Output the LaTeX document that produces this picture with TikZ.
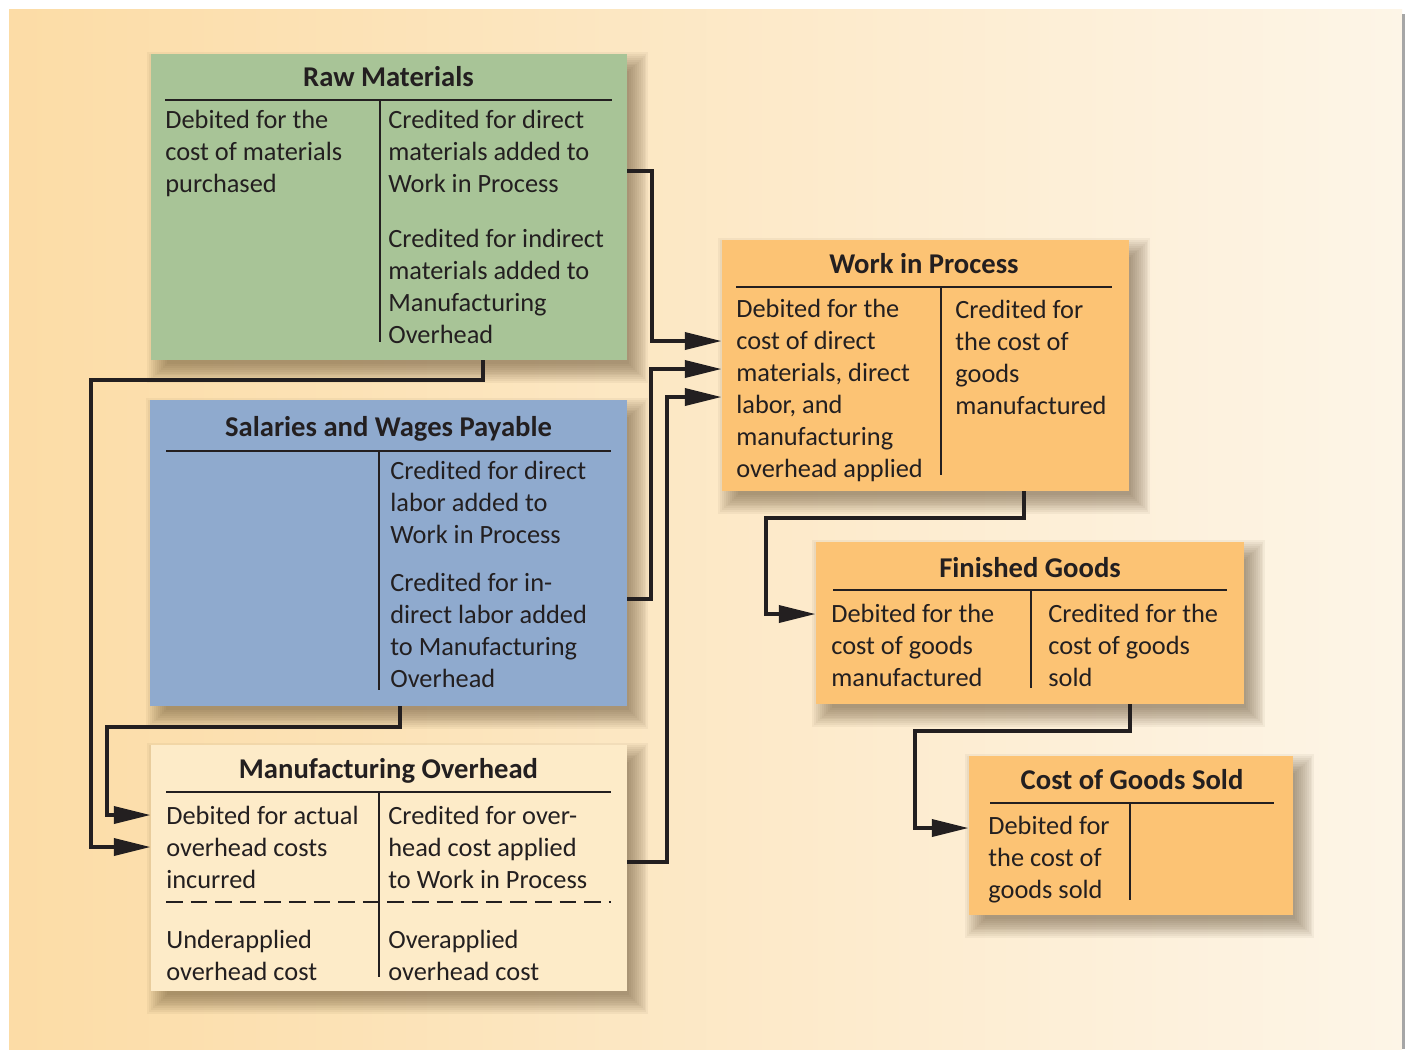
\documentclass[tikz,border=0pt]{standalone}
\usepackage{fontspec}
\setmainfont{Carlito}
\usetikzlibrary{arrows.meta}
\definecolor{ink}{HTML}{231F20}
\definecolor{rmgreen}{HTML}{A8C497}
\definecolor{swpblue}{HTML}{8FAACE}
\definecolor{mocream}{HTML}{FDEBC8}
\definecolor{acorange}{HTML}{FCC374}
\definecolor{bgleft}{HTML}{FCDCA6}
\definecolor{bgright}{HTML}{FDF5E7}
\definecolor{shadowbrown}{HTML}{4A3418}
\pgfdeclarelayer{back}
\pgfdeclarelayer{shade}
\pgfsetlayers{back,shade,main}
% soft shadow under an account box
\newcommand\accountshadow[1]{%
  \foreach \g in {0,...,10}
    \fill[shadowbrown, opacity=0.05]
      ([shift={(9pt-1.1*\g pt,-2pt-1.1*\g pt)}]#1.south west) rectangle
      ([shift={(1pt+1.1*\g pt,-10pt+1.1*\g pt)}]#1.north east);%
}

\begin{document}
\begin{tikzpicture}[x=0.02cm, y=-0.02cm,
  account/.style={inner sep=0},
  title/.style={anchor=base, inner sep=0, text=ink, font=\bfseries\fontsize{16.3}{18}\selectfont},
  entry/.style={anchor=base west, align=left, inner sep=0, text=ink,
    font=\fontsize{15}{18.14}\selectfont},
  tline/.style={line width=1.6pt, ink},
  flow/.style={line width=2.3pt, ink, -{Triangle[length=21pt,width=9.6pt]}}]

\useasboundingbox (0,0) rectangle (1405,1049);
\begin{pgfonlayer}{back}
\fill[white] (0,0) rectangle (1405,1049);
\shade[left color=bgleft, right color=bgright] (9,9) rectangle (1402,1049);
\fill[black!35] (1402,14) rectangle (1405,1049);
\end{pgfonlayer}

% accounts
\node[account, fill=rmgreen, minimum width=9.52cm, minimum height=6.12cm] (rm) at (389,207) {};
\node[account, fill=swpblue, minimum width=9.54cm, minimum height=6.12cm] (swp) at (388.5,553) {};
\node[account, fill=mocream, minimum width=9.52cm, minimum height=4.92cm] (mo) at (389,868) {};
\node[account, fill=acorange, minimum width=8.14cm, minimum height=5.02cm] (wip) at (925.5,365.5) {};
\node[account, fill=acorange, minimum width=8.56cm, minimum height=3.24cm] (fg) at (1030,623) {};
\node[account, fill=acorange, minimum width=6.48cm, minimum height=3.18cm] (cgs) at (1131,835.5) {};

\begin{pgfonlayer}{shade}
\foreach \acc in {rm,swp,mo,wip,fg,cgs}
  {\accountshadow{\acc}}
\end{pgfonlayer}

% Raw Materials
\node[title] (rmtitle) at (388.5,86) {Raw Materials};
\draw[tline] (165,100) -- (612,100);
\draw[tline] (380,100) -- (380,342);
\node[entry] (rmdebit) at (165,192) {Debited for the\\cost of materials\\purchased};
\node[entry] (rmcredit) at (388,192) {Credited for direct\\materials added to\\Work in Process};
\node[entry] (rmcredit2) at (388,343) {Credited for indirect\\materials added to\\Manufacturing\\Overhead};

% Salaries and Wages Payable
\node[title] (swptitle) at (388.5,436) {Salaries and Wages Payable};
\draw[tline] (166,451) -- (611,451);
\draw[tline] (379,451) -- (379,690);
\node[entry] (swpcredit) at (390,543) {Credited for direct\\labor added to\\Work in Process};
\node[entry] (swpcredit2) at (390,687) {Credited for in-\\direct labor added\\to Manufacturing\\Overhead};

% Manufacturing Overhead
\node[title] (motitle) at (388.5,778) {Manufacturing Overhead};
\draw[tline] (166,792) -- (611,792);
\draw[tline] (379,792) -- (379,977);
\draw[tline, dash pattern=on 9.5pt off 4.5pt] (166,902) -- (611,902);
\node[entry] (modebit) at (166,888) {Debited for actual\\overhead costs\\incurred};
\node[entry] (mocredit) at (388,888) {Credited for over-\\head cost applied\\to Work in Process};
\node[entry] (mounder) at (166,980) {Underapplied\\overhead cost};
\node[entry] (moover) at (388,980) {Overapplied\\overhead cost};

% Work in Process
\node[title] (wiptitle) at (924,273) {Work in Process};
\draw[tline] (736,287) -- (1112,287);
\draw[tline] (941,287) -- (941,475);
\node[entry] (wipdebit) at (736,477) {Debited for the\\cost of direct\\materials, direct\\labor, and\\manufacturing\\overhead applied};
\node[entry] (wipcredit) at (955,414) {Credited for\\the cost of\\goods\\manufactured};

% Finished Goods
\node[title] (fgtitle) at (1030,577) {Finished Goods};
\draw[tline] (833,590) -- (1227,590);
\draw[tline] (1031,590) -- (1031,688);
\node[entry] (fgdebit) at (831,686) {Debited for the\\cost of goods\\manufactured};
\node[entry] (fgcredit) at (1048,686) {Credited for the\\cost of goods\\sold};

% Cost of Goods Sold
\node[title] (cgstitle) at (1132,789) {Cost of Goods Sold};
\draw[tline] (990,803) -- (1274,803);
\draw[tline] (1130,803) -- (1130,900);
\node[entry] (cgsdebit) at (988,898) {Debited for\\the cost of\\goods sold};

% flows
\draw[flow] (rm.east |- 0,171) -- (652,171) |- (wip.west |- 0,341);
\draw[flow] (rm.south -| 483,0) -- ++(0,20) -| (91,847) -- (mo.west |- 0,847);
\draw[flow] (swp.east |- 0,599) -- (651,599) |- (wip.west |- 0,369);
\draw[flow] (swp.south -| 400,0) -- ++(0,21) -| (107,815) -- (mo.west |- 0,815);
\draw[flow] (mo.east |- 0,862) -- (667,862) |- (wip.west |- 0,397);
\draw[flow] (wip.south -| 1024,0) -- ++(0,27) -| (766,614) -- (fg.west |- 0,614);
\draw[flow] (fg.south -| 1130,0) -- ++(0,27) -| (915,828) -- (cgs.west |- 0,828);

\end{tikzpicture}
\end{document}
